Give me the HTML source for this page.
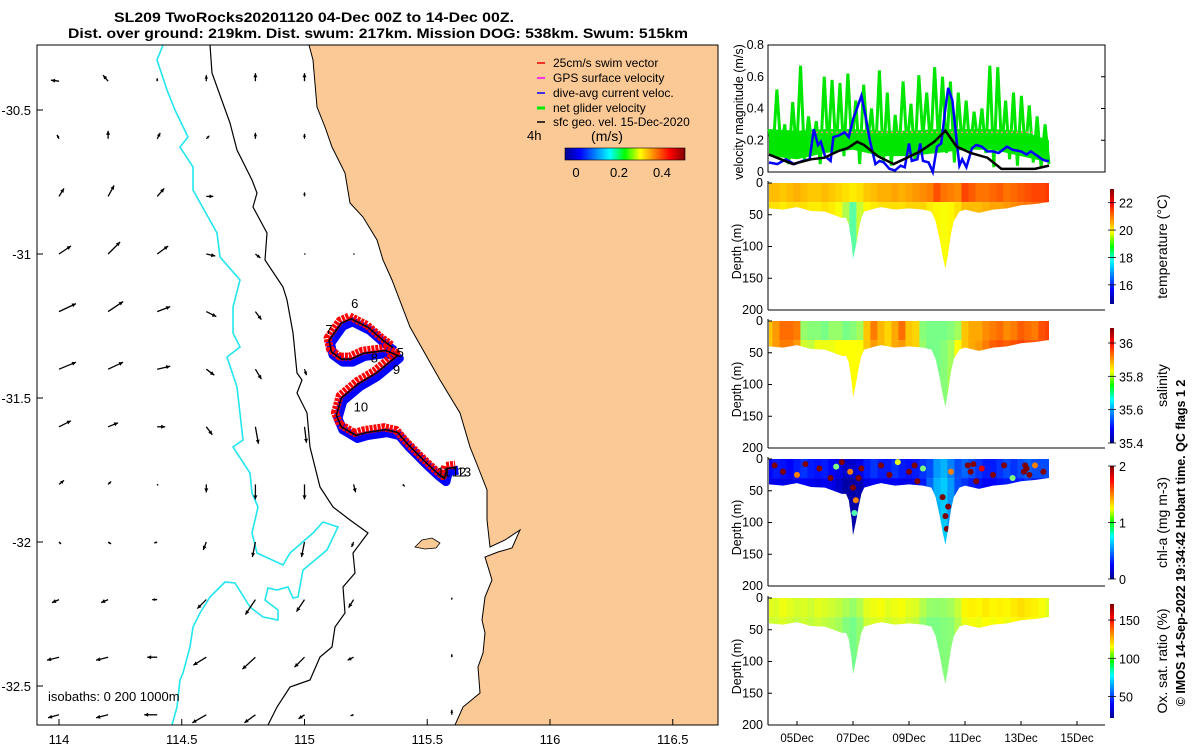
<!DOCTYPE html>
<html><head><meta charset="utf-8"><style>
html,body{margin:0;padding:0;background:#fff;}
svg{display:block;font-family:"Liberation Sans",sans-serif;}
</style></head><body>
<svg id="fig" width="1200" height="747" viewBox="0 0 1200 747" xmlns="http://www.w3.org/2000/svg">
<defs>
<clipPath id="mapclip"><rect x="37" y="45" width="681" height="680"/></clipPath>
<linearGradient id="jetV" x1="0" y1="1" x2="0" y2="0">
<stop offset="0" stop-color="#00008f"/><stop offset="0.125" stop-color="#0000ff"/><stop offset="0.375" stop-color="#00ffff"/><stop offset="0.5" stop-color="#00ff00"/><stop offset="0.625" stop-color="#ffff00"/><stop offset="0.875" stop-color="#ff0000"/><stop offset="1" stop-color="#800000"/></linearGradient>
<linearGradient id="jetH" x1="0" y1="0" x2="1" y2="0">
<stop offset="0" stop-color="#00008f"/><stop offset="0.125" stop-color="#0000ff"/><stop offset="0.375" stop-color="#00ffff"/><stop offset="0.5" stop-color="#00ff00"/><stop offset="0.625" stop-color="#ffff00"/><stop offset="0.875" stop-color="#ff0000"/><stop offset="1" stop-color="#800000"/></linearGradient>
</defs>
<text x="314" y="22" font-size="14" font-weight="bold" text-anchor="middle" textLength="400" lengthAdjust="spacingAndGlyphs">SL209 TwoRocks20201120 04-Dec 00Z to 14-Dec 00Z.</text>
<text x="378" y="38" font-size="14" font-weight="bold" text-anchor="middle" textLength="620" lengthAdjust="spacingAndGlyphs">Dist. over ground: 219km. Dist. swum: 217km. Mission DOG: 538km. Swum: 515km</text>

<g id="map">
<g clip-path="url(#mapclip)">
<polygon fill="#fbc995" stroke="#000" stroke-width="1" points="309,45 313,60 317,107 325,127 332,147 345,173 350,203 363,217 377,240 383,260 392,280 410,327 440,380 460,413 470,447 478,467 487,490 487,520 490,547 505,540 520,530 512,548 498,552 485,557 492,580 485,597 482,620 485,633 483,653 478,667 480,693 463,707 455,725 720,725 720,40 309,40"/>
<polygon fill="#fbc995" stroke="#000" stroke-width="0.8" points="415,547 422,540 432,538 440,543 436,548 425,549"/>
<polyline fill="none" stroke="#000" stroke-width="1.2" points="210,45 212,73 230,123 237,150 252,180 257,193 253,207 267,233 265,260 283,287 287,300 293,333 297,373 302,380 297,393 307,413 310,447 320,487 333,507 350,520 368,533 353,553 355,573 343,587 345,613 335,627 332,647 320,657 310,680 290,687 277,707 268,725"/>
<polyline fill="none" stroke="#22e6ee" stroke-width="1.6" points="163,45 157,60 167,90 175,110 188,137 180,147 193,167 193,190 217,233 220,257 240,280 233,307 233,333 240,347 227,357 237,387 243,440 233,447 250,473 252,493 258,507 252,533 257,553 283,565 290,553 313,533 323,522 338,527 327,550 303,570 298,597 293,598 288,587 277,590 268,588 265,600 278,610 278,620 263,617 250,607 235,583 225,582 210,597 200,613 193,627 190,647 183,673 180,680 177,707 172,725"/>
<g id="quiver"></g>
<g id="track"></g>
</g>
<rect x="37" y="45" width="681" height="680" fill="none" stroke="#000" stroke-width="1"/>
<g id="mapticks"></g>
<text x="48" y="701" font-size="13">isobaths: 0   200  1000m</text>
<g font-size="12">
<line x1="537" y1="63" x2="545" y2="63" stroke="#e00" stroke-width="1.5"/><text x="553" y="67">25cm/s swim vector</text>
<line x1="537" y1="78" x2="545" y2="78" stroke="#f0f" stroke-width="1.5"/><text x="553" y="82">GPS surface velocity</text>
<line x1="537" y1="93" x2="545" y2="93" stroke="#00f" stroke-width="1.5"/><text x="553" y="97">dive-avg current veloc.</text>
<line x1="537" y1="108" x2="545" y2="108" stroke="#0e0" stroke-width="3"/><text x="553" y="112">net glider velocity</text>
<line x1="537" y1="122" x2="545" y2="122" stroke="#000" stroke-width="1.5"/><text x="553" y="126">sfc geo. vel. 15-Dec-2020</text>
<text x="527" y="140" font-size="13">4h</text>
<text x="607" y="141" font-size="14" text-anchor="middle">(m/s)</text>
<rect x="565" y="148" width="120" height="12" fill="url(#jetH)" stroke="#000" stroke-width="0.6"/>
<text x="576" y="177" font-size="13" text-anchor="middle">0</text>
<text x="619" y="177" font-size="13" text-anchor="middle">0.2</text>
<text x="662" y="177" font-size="13" text-anchor="middle">0.4</text>
</g>
</g>

<g id="vel"></g>
<g id="profiles"></g>
<text transform="translate(1185,543) rotate(-90)" font-size="12.5" font-weight="bold" text-anchor="middle">© IMOS 14-Sep-2022 19:34:42 Hobart time. QC flags 1  2</text>
</svg>
<script>
// ---------- Map quiver data (m/s) ----------
const qLon = [114.0,114.2,114.4,114.6,114.8,115.0,115.2,115.4,115.6];
const qLat = [-30.4,-30.6,-30.8,-31.0,-31.2,-31.4,-31.6,-31.8,-32.0,-32.2,-32.4,-32.6];
const qU = [
[-0.08,-0.05,0,0,0,0,null,null,null],
[-0.02,0,0.03,0.03,0,0,null,null,null],
[0.05,0.06,0.07,0.07,0,0,null,null,null],
[0.12,0.12,0.11,0.09,0.05,0.01,0.01,null,null],
[0.17,0.15,0.13,0.10,0.06,null,null,null,null],
[0.17,0.15,0.13,0.08,0.06,0.02,null,0,null],
[0.12,0.10,0.08,0.06,0.03,0.02,null,0,0],
[0.05,0.03,0.01,0,0,0,0.02,0.02,0],
[0.02,0.03,-0.03,-0.03,-0.03,-0.03,-0.02,0,0],
[-0.07,-0.07,-0.05,-0.09,-0.10,-0.08,-0.05,0,0],
[-0.12,-0.12,-0.10,-0.13,-0.13,-0.10,-0.06,0,0],
[-0.11,-0.12,-0.13,-0.14,-0.11,-0.06,-0.03,0,0]];
const qV = [
[0.01,0.06,0.03,0.06,0.08,0.08,null,null,null],
[0.04,0.08,0.06,0.03,0.06,0.05,null,null,null],
[0.08,0.11,0.08,0,0,0.04,null,null,null],
[0.08,0.12,0.08,-0.02,-0.04,0,0,null,null],
[0.08,0.10,0.05,-0.05,-0.08,null,null,null,null],
[0.07,0.07,0.03,-0.06,-0.10,-0.06,null,0,null],
[0.06,0.04,0,-0.08,-0.17,-0.16,null,0,0],
[0.04,0.03,-0.01,-0.08,-0.15,-0.15,-0.08,-0.02,0],
[-0.02,-0.02,-0.01,-0.08,-0.15,-0.15,-0.05,0,0],
[-0.03,-0.03,0,-0.09,-0.15,-0.12,-0.08,0,0.02],
[-0.03,-0.03,0,-0.08,-0.12,-0.10,-0.03,0,0.03],
[-0.03,-0.03,0,-0.08,-0.08,-0.04,-0.01,0,0.05]];
const mapXTicks = [114,114.5,115,115.5,116,116.5];
const mapYTicks = [-30.5,-31,-31.5,-32,-32.5];
const trackLon = [115.36,115.32,115.26,115.19,115.15,115.10,115.11,115.15,115.19,115.24,115.33,115.38,115.34,115.29,115.22,115.15,115.13,115.15,115.21,115.25,115.33,115.38,115.42,115.49,115.54,115.57,115.58,115.62];
const trackLat = [-31.325,-31.30,-31.255,-31.225,-31.24,-31.30,-31.34,-31.365,-31.365,-31.345,-31.335,-31.352,-31.38,-31.415,-31.45,-31.50,-31.56,-31.60,-31.63,-31.62,-31.61,-31.62,-31.66,-31.72,-31.76,-31.78,-31.745,-31.74];
const dayMarkLabels = ["5","6","7","8","9","10","11","12","13"];
const dayMarkLon = [115.375,115.19,115.085,115.27,115.36,115.2,115.54,115.6,115.62];
const dayMarkLat = [-31.34,-31.17,-31.26,-31.36,-31.40,-31.53,-31.755,-31.755,-31.755];

// ---------- Velocity panel data ----------
const blackDays = [0,0.85,1.5,1.98,2.45,2.8,3.15,3.4,3.88,4.45,4.93,5.4,5.9,6.3,6.7,7.2,7.8,8.3,9.5,10];
const blackVals = [0.11,0.05,0.08,0.09,0.13,0.15,0.19,0.17,0.10,0.05,0.09,0.13,0.19,0.26,0.16,0.12,0.09,0.02,0.02,0.04];
const blueDays = [0,0.3,0.6,0.9,1.2,1.45,1.6,1.75,1.85,2.0,2.2,2.3,2.5,2.7,2.85,3.0,3.2,3.3,3.45,3.6,3.8,3.95,4.1,4.3,4.5,4.7,4.85,5.0,5.1,5.3,5.4,5.5,5.7,5.85,6.0,6.15,6.3,6.4,6.55,6.7,6.8,6.9,7.05,7.25,7.4,7.6,7.8,8.0,8.2,8.5,8.7,9.0,9.2,9.35,9.6,9.75,9.9,10.0];
const blueVals = [0.06,0.05,0.08,0.05,0.07,0.08,0.27,0.17,0.19,0.10,0.07,0.22,0.23,0.25,0.22,0.33,0.43,0.48,0.35,0.20,0.05,0.07,0.06,0.02,0.01,0.04,0.03,0.18,0.07,0.08,0.18,0.07,0.06,0.0,0.16,0.18,0.40,0.53,0.45,0.20,0.04,0.08,0.03,0.15,0.17,0.16,0.13,0.13,0.12,0.16,0.14,0.13,0.11,0.13,0.10,0.08,0.07,0.07];
const greenVals = [0.27,0.12,0.52,0.15,0.30,0.05,0.44,0.12,0.67,0.08,0.35,0.15,0.32,0.05,0.60,0.14,0.58,0.12,0.56,0.10,0.62,0.16,0.45,0.05,0.55,0.18,0.40,0.10,0.64,0.06,0.50,0.04,0.36,0.12,0.57,0.15,0.43,0.08,0.61,0.22,0.50,0.14,0.66,0.18,0.60,0.12,0.57,0.06,0.50,0.15,0.45,0.12,0.38,0.18,0.40,0.12,0.67,0.03,0.66,0.14,0.45,0.08,0.50,0.04,0.48,0.12,0.42,0.06,0.35,0.03,0.30,0.05];
const greenBandDays = [0,1,2,3,4,5,6,7,8,9,10];
const greenBandLo = [0.10,0.08,0.12,0.14,0.10,0.10,0.12,0.14,0.14,0.10,0.06];
const greenBandHi = [0.27,0.26,0.27,0.27,0.26,0.26,0.27,0.27,0.27,0.26,0.20];
const velTicks = [0,0.2,0.4,0.6,0.8];
const dateTicks = [1,3,5,7,9,11];
const dateLabels = ["05Dec","07Dec","09Dec","11Dec","13Dec","15Dec"];

// ---------- Profile data ----------
const envDays = [0,0.5,1,1.5,2,2.3,2.6,2.75,2.85,2.95,3.0,3.1,3.2,3.3,3.4,3.8,4,4.5,5,5.5,5.8,5.95,6.1,6.2,6.3,6.4,6.5,6.6,6.8,7,7.5,8,8.5,9,9.5,10];
const envDepth = [40,42,38,44,45,50,55,55,65,95,120,100,75,55,45,40,38,42,40,42,45,60,90,115,135,110,80,60,45,42,47,42,40,35,33,30];
const colDays = [0,0.25,0.5,0.75,1,1.25,1.5,1.75,2,2.25,2.5,2.75,3,3.25,3.5,3.75,4,4.25,4.5,4.75,5,5.25,5.5,5.75,6,6.25,6.5,6.75,7,7.25,7.5,7.75,8,8.25,8.5,8.75,9,9.25,9.5,9.75,10];
const tempSurf = [20.4,20.4,20.3,20.4,20.5,20.4,20.3,20.3,20.4,20.3,20.2,20.1,20.0,20.1,20.3,20.4,20.5,20.5,20.6,20.5,20.6,20.7,20.8,20.9,21.3,21.0,20.9,20.8,21.4,21.2,21.0,21.0,21.1,21.2,21.0,21.1,21.2,21.3,21.4,21.4,21.5];
const tempDeep = [20.1,20.1,20.0,20.1,20.1,20.1,20.0,20.0,20.1,20.0,19.8,19.2,18.5,19.4,19.9,20.0,20.1,20.1,20.1,20.1,20.2,20.2,20.2,20.0,19.9,19.8,19.9,20.1,20.4,20.4,20.4,20.5,20.6,20.6,20.7,20.8,20.9,21.0,21.1,21.2,21.3];
const salSurf = [35.87,35.9,35.93,35.93,35.92,35.76,35.75,35.75,35.74,35.76,35.76,35.74,35.75,35.77,35.87,35.92,35.88,35.86,35.89,35.93,35.87,35.86,35.75,35.74,35.74,35.74,35.75,35.77,35.87,35.89,35.89,35.91,35.92,35.93,35.91,35.92,35.94,35.93,35.92,35.95,35.96];
const salDeep = [35.87,35.9,35.92,35.92,35.9,35.8,35.79,35.82,35.82,35.82,35.83,35.83,35.83,35.83,35.87,35.9,35.88,35.86,35.89,35.9,35.87,35.86,35.76,35.74,35.74,35.75,35.77,35.83,35.87,35.89,35.9,35.92,35.94,35.95,35.94,35.95,35.96,35.95,35.95,35.96,35.96];
const chlSurf = [0.25,0.3,0.28,0.25,0.3,0.35,0.3,0.28,0.3,0.25,0.2,0.15,0.15,0.2,0.3,0.35,0.3,0.3,0.35,0.3,0.28,0.3,0.35,0.4,0.55,0.6,0.5,0.4,0.45,0.4,0.35,0.3,0.3,0.35,0.4,0.35,0.4,0.45,0.4,0.4,0.4];
const chlDeep = [0.2,0.22,0.2,0.2,0.22,0.25,0.22,0.2,0.22,0.2,0.15,0.08,0.08,0.1,0.2,0.25,0.22,0.22,0.25,0.22,0.2,0.22,0.3,0.45,0.6,0.65,0.55,0.4,0.35,0.3,0.28,0.25,0.25,0.28,0.3,0.28,0.3,0.35,0.3,0.3,0.3];
const chlDotDay = [0.2,0.5,1.0,1.3,1.8,2.2,2.4,2.6,2.9,3.0,3.1,3.2,3.3,4.0,4.3,4.6,5.0,5.2,5.3,5.5,6.2,6.3,6.35,6.4,6.5,7.1,7.2,7.4,7.6,8.0,8.4,9.1,9.2,9.3,9.5,9.8,3.05,8.7,7.3,9.15];
const chlDotDepth = [10,20,25,8,15,30,12,5,20,45,65,30,15,10,25,5,20,10,35,15,60,90,110,75,20,10,20,35,15,25,10,20,15,25,10,20,85,30,8,10];
const chlDotVal = [2,2,1.5,2,2,2,1,2,1.5,2,1.5,2,2,2,2,1.2,2,2,2,1,2,2,2,2,1.5,2,2,2,1.8,2,2,2,2,2,1.5,2,0.9,1,2,2];
const oxSurf = [111,110,113,111,109,110,108,111,110,108,106,103,100,104,111,113,114,111,113,114,111,110,104,100,99,100,102,107,116,117,116,118,116,117,116,118,120,118,117,114,111];
const oxDeep = [108,108,110,108,106,108,106,108,106,104,102,97,95,99,108,110,111,108,110,111,108,106,99,96,96,97,98,104,113,114,113,115,114,115,113,116,117,116,115,112,109];
const tempTicks = [16,18,20,22], salTicks = [35.4,35.6,35.8,36], chlTicks = [0,1,2], oxTicks = [50,100,150];
const depthTicks = [0,50,100,150,200];

const NS = "http://www.w3.org/2000/svg";
function mk(tag, attrs, parent){const e=document.createElementNS(NS,tag);for(const k in attrs)e.setAttribute(k,attrs[k]);parent.appendChild(e);return e;}
function jet(t){t=Math.max(0,Math.min(1,t));const c=v=>Math.round(255*Math.max(0,Math.min(1,1.5-Math.abs(v))));return `rgb(${c(4*t-3)},${c(4*t-2)},${c(4*t-1)})`;}

// ---- map ----
const lonX = lon => 59 + (lon-114)*245.5;
const latY = lat => 110 + (-30.5-lat)*288;
const quiver = document.getElementById('quiver');
const qs = 100;
qLat.forEach((lat,i)=>qLon.forEach((lon,j)=>{
  const u=qU[i][j], v=qV[i][j]; if(u===null) return;
  const x0=lonX(lon), y0=latY(lat), x1=x0+u*qs, y1=y0-v*qs;
  const a=mk('line',{x1:x0,y1:y0,x2:x1,y2:y1,stroke:'#000','stroke-width':1.3},quiver);
  
  
  const L=Math.hypot(x1-x0,y1-y0)||1, ux=(x1-x0)/L, uy=(y1-y0)/L, h=Math.min(4,1+L*0.4);
  const p=mk('polygon',{points:`${x1},${y1} ${x1-ux*h-uy*h*0.5},${y1-uy*h+ux*h*0.5} ${x1-ux*h+uy*h*0.5},${y1-uy*h-ux*h*0.5}`,fill:'#000'},quiver);
  
  
}));
const track=document.getElementById('track');
const pts=trackLon.map((lon,i)=>[lonX(lon),latY(trackLat[i])]);
const ptsStr=(dx,dy)=>pts.map(p=>`${p[0]+dx},${p[1]+dy}`).join(' ');
const tb=mk('polyline',{points:ptsStr(1.5,3),fill:'none',stroke:'#0000ff','stroke-width':9,'stroke-linejoin':'round'},track);


const tr=mk('polyline',{points:ptsStr(-1.5,-2.5),fill:'none',stroke:'#ff0000','stroke-width':8,'stroke-linejoin':'round','stroke-dasharray':'3 1'},track);


const tk=mk('polyline',{points:ptsStr(0,0),fill:'none',stroke:'#000','stroke-width':1.5},track);


dayMarkLabels.forEach((s,i)=>{const t=mk('text',{x:lonX(dayMarkLon[i]),y:latY(dayMarkLat[i])+5,'font-size':13},track);t.textContent=s;

});
const mt=document.getElementById('mapticks');
mapXTicks.forEach(v=>{const x=lonX(v);mk('line',{x1:x,y1:725,x2:x,y2:719,stroke:'#000'},mt);const t=mk('text',{x:x,y:744,'font-size':13,'text-anchor':'middle'},mt);t.textContent=String(v);

});
mapYTicks.forEach(v=>{const y=latY(v);mk('line',{x1:37,y1:y,x2:43,y2:y,stroke:'#000'},mt);const t=mk('text',{x:31,y:y+5,'font-size':13,'text-anchor':'end'},mt);t.textContent=String(v);

});

// ---- velocity panel ----
const vel=document.getElementById('vel');
const VX0=769, VDAY=28, PL=768, PR=1105;
const dX = d => VX0 + d*VDAY;
const vY = v => 172 - v*158.75;
mk('rect',{x:PL,y:45,width:PR-PL,height:127,fill:'#fff',stroke:'#000'},vel);
const band=greenBandDays.map((d,i)=>`${dX(d)},${vY(greenBandHi[i])}`).concat(greenBandDays.slice().reverse().map((d,k)=>{const i=greenBandDays.length-1-k;return `${dX(d)},${vY(greenBandLo[i])}`;}));
const gb=mk('polygon',{points:band.join(' '),fill:'#00e600'},vel);


const gstep=10/(greenVals.length-1);
const gp=mk('polyline',{points:greenVals.map((v,i)=>`${dX(i*gstep)},${vY(v)}`).join(' '),fill:'none',stroke:'#00e600','stroke-width':3},vel);


const sw=mk('line',{x1:dX(1.5),y1:vY(0.25),x2:dX(9.5),y2:vY(0.25),stroke:'#f88','stroke-width':1.5,'stroke-dasharray':'2 3'},vel);


const bp=mk('polyline',{points:blueDays.map((d,i)=>`${dX(d)},${vY(blueVals[i])}`).join(' '),fill:'none',stroke:'#0000ff','stroke-width':2.5},vel);


const kp=mk('polyline',{points:blackDays.map((d,i)=>`${dX(d)},${vY(blackVals[i])}`).join(' '),fill:'none',stroke:'#000','stroke-width':2.5},vel);


velTicks.forEach(v=>{const y=vY(v);mk('line',{x1:PR,y1:y,x2:PR-4,y2:y,stroke:'#000'},vel);const t=mk('text',{x:764,y:y+4,'font-size':12.5,'text-anchor':'end'},vel);t.textContent=String(v);

});
const vl=mk('text',{transform:'translate(743,112) rotate(-90)','font-size':12.5,'text-anchor':'middle'},vel);vl.textContent='velocity magnitude (m/s)';



// ---- profile panels ----
const prof=document.getElementById('profiles');
const panels=[
 {top:183,bot:310,surf:tempSurf,deep:tempDeep,vmin:14.6,vmax:23.0,ticks:tempTicks,label:'temperature (°C)',cbT:189,cbB:304,name:'temperature'},
 {top:321,bot:448,surf:salSurf,deep:salDeep,vmin:35.4,vmax:36.09,ticks:salTicks,label:'salinity',cbT:328,cbB:443,name:'salinity'},
 {top:459,bot:586,surf:chlSurf,deep:chlDeep,vmin:0,vmax:2,ticks:chlTicks,label:'chl-a (mg m-3)',cbT:466,cbB:579,name:'chlorophyll'},
 {top:598,bot:725,surf:oxSurf,deep:oxDeep,vmin:22,vmax:171,ticks:oxTicks,label:'Ox. sat. ratio (%)',cbT:604,cbB:718,name:'oxygen'}];
panels.forEach((P,pi)=>{
  const g=mk('g',{},prof);
  
  
  const dY=d=>P.top+d*(P.bot-P.top)/200;
  const cid='clip'+pi;
  const cp=mk('clipPath',{id:cid},g);
  const env=[`${dX(0)},${dY(0)}`,`${dX(10)},${dY(0)}`].concat(envDays.slice().reverse().map((d,k)=>{const i=envDays.length-1-k;return `${dX(d)},${dY(envDepth[i])}`;}));
  mk('polygon',{points:env.join(' ')},cp);
  const cg=mk('g',{'clip-path':`url(#${cid})`},g);
  const norm=v=>(v-P.vmin)/(P.vmax-P.vmin);
  colDays.forEach((d,i)=>{
    const x=dX(d)-3.6;
    const r1=mk('rect',{x:x,y:dY(0)-1,width:7.4,height:dY(30)-dY(0)+1,fill:jet(norm(P.surf[i]))},cg);
    
    
    const r2=mk('rect',{x:x,y:dY(30),width:7.4,height:dY(200)-dY(30),fill:jet(norm(P.deep[i]))},cg);
    
    
  });
  if(pi===2){chlDotDay.forEach((d,i)=>{const c=mk('circle',{cx:dX(d),cy:dY(chlDotDepth[i]),r:3,fill:jet(norm(chlDotVal[i]))},cg);
    
    });}
  mk('line',{x1:PL,y1:P.top-2,x2:PL,y2:P.bot,stroke:'#000'},g);
  mk('line',{x1:PL,y1:P.bot,x2:PR,y2:P.bot,stroke:'#000'},g);
  depthTicks.forEach(v=>{const y=dY(v);mk('line',{x1:PL,y1:y,x2:PL+4,y2:y,stroke:'#000'},g);const t=mk('text',{x:763,y:y+4,'font-size':12.5,'text-anchor':'end'},g);t.textContent=String(v);
    
    });
  const yl=mk('text',{transform:`translate(741,${(P.top+P.bot)/2+5}) rotate(-90)`,'font-size':12.5,'text-anchor':'middle'},g);yl.textContent='Depth (m)';
  
  
  const cb=mk('rect',{x:1110,y:P.cbT,width:4,height:P.cbB-P.cbT,fill:'url(#jetV)'},g);
  
  
  P.ticks.forEach(v=>{const y=P.cbB-(v-P.vmin)/(P.vmax-P.vmin)*(P.cbB-P.cbT);mk('line',{x1:1108,y1:y,x2:1116,y2:y,stroke:'#000','stroke-width':0.8},g);const t=mk('text',{x:1119,y:y+5,'font-size':12.5},g);t.textContent=String(v);
    
    });
  const cl=mk('text',{transform:`translate(1167,${(P.cbT+P.cbB)/2}) rotate(-90)`,'font-size':14,'text-anchor':'middle'},g);cl.textContent=P.label;
  
  
  if(pi===3){dateTicks.forEach((d,i)=>{const x=dX(d);mk('line',{x1:x,y1:P.bot,x2:x,y2:P.bot-4,stroke:'#000'},g);const t=mk('text',{x:x,y:742,'font-size':11.5,'text-anchor':'middle'},g);t.textContent=dateLabels[i];
    
    });}
});
</script>
</body></html>
